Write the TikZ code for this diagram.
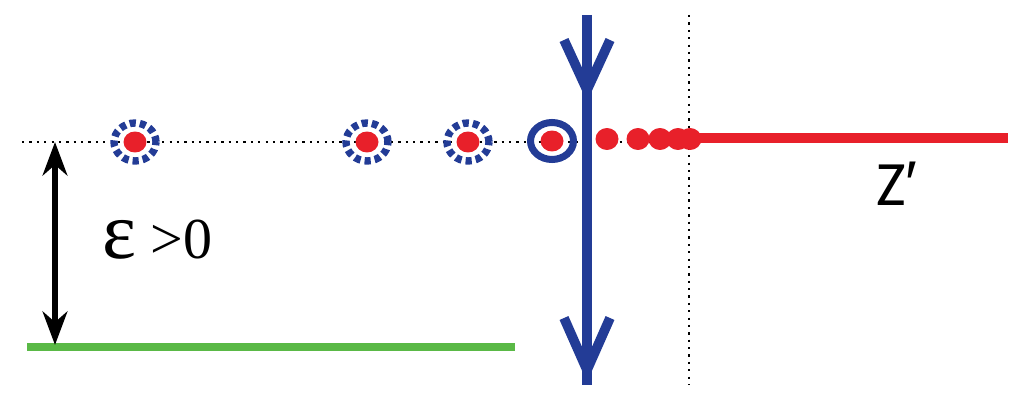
\documentclass[tikz,border=0pt]{standalone}
\usepackage{fontspec}
\setmainfont{Liberation Serif}
\newfontfamily\zfont{Carlito}
\newfontfamily\primefont{Liberation Sans}
\usetikzlibrary{arrows.meta}
\definecolor{dotred}{RGB}{232,32,42}
\definecolor{lineblue}{RGB}{35,60,150}
\definecolor{levelgreen}{RGB}{90,185,70}

\begin{document}
\begin{tikzpicture}[x=0.02cm,y=-0.02cm,
  pt/.style={fill=dotred,draw=none},
  ring/.style={draw=lineblue,line width=4.2pt,dash pattern=on 3.5pt off 2.3pt},
  guide/.style={line width=1.3pt,dash pattern=on 1.3pt off 2.9pt,line cap=butt},
  vee/.style={lineblue,line width=5.5pt}]
\useasboundingbox (0,0) rectangle (1024,405);
% guide lines
\coordinate (L) at (22,142); \coordinate (R) at (690,142);
\draw[guide] (L)--(R);
\coordinate (T) at (689,15); \coordinate (U) at (689,385);
\draw[guide] (T)--(U);
% points with dashed rings
\foreach \x/\n in {135/a,367/b,468/c}{
  \coordinate (\n) at (\x,142);
  \draw[ring] (\n) ellipse (0.42cm and 0.38cm);
  \fill[pt] (\n) ellipse (0.23cm and 0.21cm);
}
% point with solid ring
\coordinate (d) at (552,141);
\draw[lineblue,line width=4pt] (d) ellipse (0.43cm and 0.37cm);
\fill[pt] (d) ellipse (0.23cm and 0.21cm);
% red points piling up
\foreach \x in {607,638,660,678,690}
  \fill[pt] (\x,139) ellipse (0.23cm and 0.22cm);
\coordinate (z0) at (690,138); \coordinate (z1) at (1008,138);
\draw[dotred,line width=5.8pt] (z0)--(z1);
\node[font=\zfont\fontsize{36}{36}\selectfont] (zp) at (897,184) {Z{\primefont ′}};
% blue line with arrows
\coordinate (B0) at (587,15); \coordinate (B1) at (587,385);
\draw[vee] (B0)--(B1);
\draw[vee,line join=miter] (564,40)--(587,90)--(610,40);
\draw[vee,line join=miter] (564,318)--(587,370)--(610,318);
% epsilon gap
\coordinate (g0) at (27,347); \coordinate (g1) at (515,347);
\draw[levelgreen,line width=4pt] (g0)--(g1);
\coordinate (e0) at (55,142); \coordinate (e1) at (55,345);
\draw[line width=3.4pt,{Stealth[length=19pt,width=14pt,inset=6pt]}-{Stealth[length=19pt,width=14pt,inset=6pt]}] (e0)--(e1);
\node[font=\fontsize{33}{33}\selectfont,anchor=base west,inner sep=0pt] (eps) at (102,258) {{\fontsize{46}{46}\selectfont ε} >0};
\end{tikzpicture}
\end{document}
